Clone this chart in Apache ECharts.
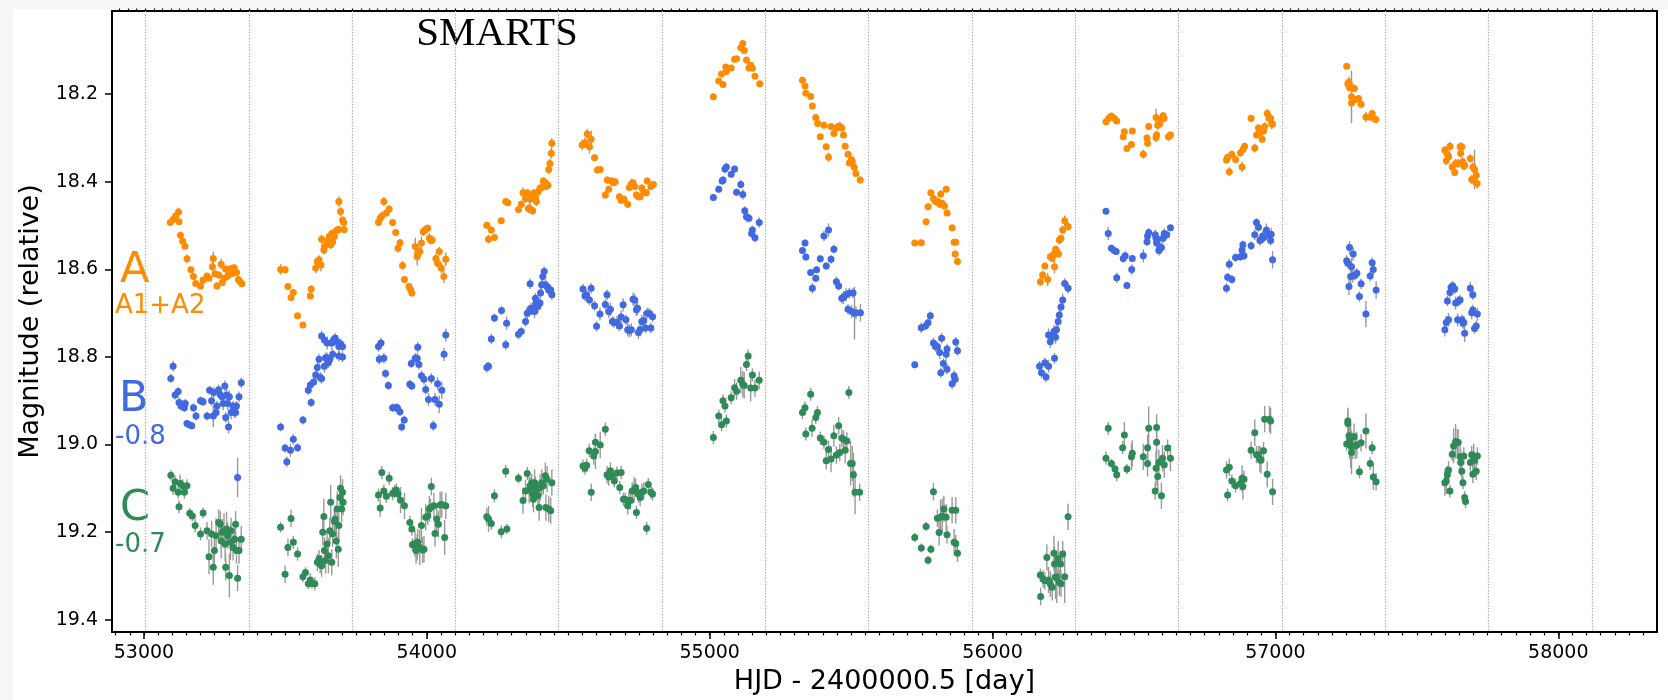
<!DOCTYPE html>
<html>
<head>
<meta charset="utf-8">
<script src="https://cdn.jsdelivr.net/npm/echarts@6.0.0/dist/echarts.min.js"></script>
<style>
html,body{margin:0;padding:0;background:#f7f7f7;}
#paper{position:absolute;left:13px;top:9px;width:1655px;height:691px;background:#ffffff;}
#chart{position:absolute;left:0;top:0;width:1668px;height:700px;}
</style>
</head>
<body>
<div id="paper"></div>
<div id="chart"></div>
<script>
// ---------------- data: [HJD-2400000.5, magnitude (as plotted), error] ----------------
const pointsA = [
[53093,18.493,0.006],[53103,18.486,0.006],[53112,18.478,0.008],[53122,18.469,0.01],[53124,18.491,0.006],[53129,18.522,0.008],[53137,18.536,0.006],[53145,18.547,0.006],[53152,18.576,0.01],[53166,18.601,0.006],[53175,18.616,0.006],[53183,18.632,0.006],[53200,18.638,0.006],[53209,18.624,0.006],[53223,18.615,0.006],[53230,18.620,0.006],[53245,18.575,0.015],[53242,18.594,0.01],[53251,18.610,0.008],[53258,18.638,0.008],[53264,18.613,0.008],[53273,18.588,0.012],[53277,18.630,0.008],[53283,18.620,0.008],[53289,18.599,0.008],[53298,18.614,0.01],[53302,18.609,0.008],[53308,18.598,0.008],[53315,18.609,0.008],[53319,18.596,0.008],[53327,18.607,0.008],[53334,18.623,0.008],[53340,18.628,0.008],[53346,18.633,0.006],
[53483,18.600,0.012],[53499,18.601,0.008],[53509,18.639,0.006],[53520,18.664,0.006],[53528,18.653,0.008],[53543,18.706,0.006],[53562,18.727,0.006],[53588,18.661,0.008],[53591,18.645,0.008],[53607,18.597,0.012],[53613,18.582,0.008],[53619,18.578,0.01],[53626,18.590,0.015],[53628,18.531,0.01],[53636,18.556,0.01],[53638,18.548,0.008],[53645,18.544,0.01],[53651,18.533,0.01],[53655,18.525,0.008],[53660,18.544,0.01],[53664,18.518,0.008],[53667,18.537,0.008],[53673,18.525,0.008],[53676,18.514,0.008],[53683,18.510,0.008],[53689,18.509,0.008],[53689,18.445,0.012],[53695,18.468,0.01],[53702,18.487,0.008],[53706,18.493,0.008],[53708,18.509,0.008],
[53829,18.493,0.008],[53835,18.483,0.008],[53841,18.478,0.01],[53848,18.445,0.01],[53857,18.471,0.008],[53867,18.462,0.008],[53879,18.493,0.008],[53890,18.516,0.008],[53898,18.552,0.01],[53905,18.539,0.008],[53914,18.591,0.01],[53921,18.623,0.008],[53937,18.639,0.008],[53943,18.647,0.008],[53947,18.654,0.008],[53959,18.548,0.02],[53966,18.571,0.02],[53968,18.563,0.015],[53975,18.559,0.012],[53981,18.540,0.015],[53987,18.514,0.01],[53994,18.510,0.01],[54003,18.506,0.008],[54009,18.529,0.012],[54013,18.533,0.01],[54019,18.533,0.01],[54032,18.575,0.01],[54038,18.586,0.01],[54044,18.559,0.01],[54051,18.597,0.012],[54060,18.616,0.015],[54067,18.577,0.015],
[54212,18.499,0.008],[54218,18.531,0.01],[54228,18.510,0.008],[54239,18.527,0.006],[54263,18.489,0.006],[54279,18.445,0.008],[54286,18.448,0.006],[54324,18.463,0.008],[54334,18.451,0.008],[54340,18.425,0.012],[54349,18.438,0.01],[54355,18.425,0.008],[54359,18.461,0.01],[54365,18.440,0.015],[54368,18.463,0.01],[54374,18.466,0.01],[54377,18.426,0.01],[54384,18.434,0.008],[54387,18.445,0.01],[54393,18.423,0.008],[54400,18.415,0.008],[54406,18.413,0.008],[54412,18.398,0.008],[54419,18.402,0.008],[54421,18.411,0.008],[54428,18.408,0.008],[54431,18.372,0.01],[54435,18.358,0.01],[54440,18.335,0.012],[54442,18.312,0.012],
[54549,18.316,0.012],[54559,18.311,0.012],[54567,18.291,0.012],[54575,18.320,0.015],[54581,18.303,0.02],[54593,18.345,0.008],[54603,18.373,0.008],[54613,18.372,0.008],[54631,18.430,0.008],[54638,18.396,0.008],[54643,18.417,0.008],[54653,18.398,0.008],[54660,18.402,0.008],[54666,18.400,0.008],[54681,18.434,0.008],[54687,18.442,0.008],[54697,18.440,0.008],[54710,18.451,0.008],[54716,18.413,0.008],[54723,18.405,0.012],[54729,18.402,0.008],[54735,18.411,0.008],[54741,18.430,0.008],[54748,18.434,0.008],[54754,18.434,0.008],[54760,18.414,0.008],[54767,18.425,0.008],[54776,18.425,0.008],[54779,18.398,0.008],[54792,18.411,0.008],[54801,18.406,0.008],
[55013,18.206,0.008],[55032,18.170,0.006],[55042,18.154,0.006],[55047,18.178,0.008],[55057,18.138,0.006],[55059,18.148,0.006],[55076,18.140,0.006],[55088,18.120,0.006],[55095,18.119,0.006],[55110,18.094,0.006],[55117,18.084,0.006],[55122,18.100,0.006],[55130,18.122,0.006],[55139,18.140,0.006],[55145,18.134,0.006],[55151,18.141,0.006],[55160,18.159,0.006],[55177,18.176,0.006],
[55328,18.168,0.006],[55337,18.181,0.006],[55340,18.198,0.006],[55357,18.205,0.006],[55363,18.227,0.006],[55375,18.253,0.006],[55382,18.267,0.006],[55391,18.297,0.006],[55404,18.271,0.006],[55412,18.320,0.006],[55420,18.344,0.01],[55429,18.274,0.006],[55439,18.290,0.006],[55448,18.278,0.006],[55454,18.274,0.006],[55460,18.273,0.01],[55467,18.277,0.006],[55473,18.293,0.006],[55479,18.319,0.006],[55489,18.337,0.006],[55494,18.357,0.006],[55501,18.349,0.006],[55504,18.354,0.006],[55511,18.367,0.006],[55517,18.381,0.006],[55532,18.396,0.008],
[55725,18.540,0.006],[55748,18.539,0.006],[55765,18.491,0.006],[55772,18.457,0.006],[55782,18.425,0.006],[55791,18.438,0.006],[55798,18.445,0.008],[55807,18.445,0.008],[55813,18.451,0.008],[55817,18.428,0.008],[55822,18.449,0.006],[55830,18.455,0.006],[55836,18.417,0.006],[55839,18.471,0.006],[55857,18.505,0.006],[55864,18.538,0.006],[55870,18.538,0.006],[55868,18.565,0.008],[55876,18.582,0.008],
[56169,18.628,0.01],[56177,18.613,0.01],[56185,18.592,0.008],[56195,18.623,0.015],[56204,18.571,0.008],[56211,18.575,0.008],[56217,18.565,0.008],[56219,18.594,0.015],[56223,18.554,0.008],[56227,18.559,0.008],[56233,18.565,0.008],[56236,18.533,0.01],[56242,18.529,0.008],[56248,18.510,0.01],[56255,18.489,0.012],[56267,18.502,0.01],
[56401,18.263,0.008],[56411,18.255,0.006],[56420,18.250,0.006],[56430,18.255,0.006],[56439,18.261,0.006],[56462,18.297,0.008],[56466,18.286,0.008],[56475,18.324,0.006],[56491,18.315,0.006],[56494,18.284,0.006],[56533,18.337,0.01],[56546,18.300,0.008],[56548,18.312,0.008],[56552,18.274,0.008],[56578,18.253,0.02],[56578,18.299,0.01],[56580,18.293,0.01],[56584,18.271,0.01],[56590,18.268,0.008],[56597,18.258,0.01],[56603,18.249,0.008],[56606,18.255,0.008],[56622,18.297,0.01],[56629,18.293,0.008],
[56827,18.350,0.008],[56831,18.344,0.008],[56837,18.377,0.01],[56846,18.337,0.008],[56859,18.349,0.008],[56876,18.334,0.008],[56882,18.366,0.012],[56885,18.326,0.008],[56891,18.319,0.008],[56914,18.255,0.008],[56927,18.323,0.01],[56933,18.293,0.008],[56940,18.277,0.008],[56945,18.288,0.008],[56953,18.303,0.008],[56958,18.284,0.008],[56962,18.274,0.01],[56971,18.244,0.01],[56977,18.255,0.01],[56983,18.255,0.01],[56987,18.268,0.012],[56990,18.268,0.01],
[57252,18.136,0.006],[57256,18.176,0.01],[57260,18.172,0.012],[57262,18.185,0.008],[57269,18.206,0.06],[57269,18.220,0.01],[57273,18.185,0.01],[57275,18.214,0.008],[57279,18.187,0.008],[57285,18.212,0.008],[57294,18.210,0.008],[57303,18.223,0.008],[57320,18.252,0.012],[57333,18.252,0.008],[57342,18.244,0.008],[57348,18.255,0.008],[57355,18.258,0.008],
[57599,18.328,0.01],[57604,18.352,0.01],[57608,18.337,0.01],[57612,18.343,0.008],[57617,18.319,0.01],[57625,18.366,0.01],[57634,18.379,0.008],[57637,18.358,0.01],[57646,18.358,0.01],[57653,18.320,0.01],[57655,18.335,0.01],[57659,18.320,0.01],[57662,18.354,0.01],[57666,18.364,0.01],[57669,18.362,0.01],[57689,18.347,0.01],[57694,18.395,0.01],[57698,18.366,0.01],[57701,18.396,0.012],[57704,18.372,0.045],[57710,18.385,0.012],[57713,18.404,0.012]
];

const pointsB = [
[53095,18.849,0.01],[53103,18.821,0.012],[53110,18.887,0.01],[53121,18.879,0.01],[53124,18.904,0.012],[53131,18.912,0.01],[53137,18.909,0.01],[53143,18.916,0.01],[53146,18.906,0.01],[53152,18.952,0.008],[53160,18.955,0.008],[53169,18.957,0.008],[53175,18.916,0.01],[53184,18.935,0.01],[53200,18.900,0.01],[53209,18.902,0.01],[53223,18.935,0.01],[53232,18.876,0.01],[53239,18.900,0.012],[53245,18.935,0.025],[53247,18.881,0.012],[53255,18.927,0.012],[53258,18.912,0.012],[53264,18.875,0.012],[53270,18.887,0.012],[53277,18.891,0.012],[53280,18.906,0.015],[53286,18.866,0.012],[53289,18.938,0.012],[53292,18.887,0.015],[53296,18.906,0.015],[53299,18.960,0.015],[53302,18.891,0.015],[53308,18.927,0.015],[53315,18.912,0.012],[53319,18.927,0.012],[53324,18.927,0.012],[53327,18.912,0.012],[53331,19.075,0.045],[53336,18.891,0.012],[53344,18.859,0.012],
[53483,18.960,0.01],[53499,19.008,0.01],[53505,19.039,0.012],[53518,19.013,0.015],[53528,18.988,0.012],[53543,19.007,0.01],[53562,18.944,0.01],[53581,18.876,0.01],[53588,18.864,0.01],[53591,18.904,0.01],[53600,18.857,0.01],[53607,18.841,0.01],[53613,18.824,0.012],[53619,18.805,0.012],[53623,18.847,0.012],[53628,18.849,0.012],[53628,18.752,0.012],[53638,18.821,0.015],[53638,18.761,0.012],[53642,18.802,0.012],[53647,18.802,0.012],[53648,18.768,0.015],[53652,18.813,0.012],[53657,18.805,0.012],[53664,18.768,0.015],[53667,18.794,0.012],[53670,18.761,0.012],[53676,18.757,0.012],[53683,18.765,0.015],[53689,18.776,0.015],[53689,18.798,0.012],[53695,18.770,0.012],[53702,18.776,0.012],[53702,18.800,0.012],
[53829,18.776,0.012],[53832,18.805,0.012],[53838,18.768,0.012],[53848,18.803,0.012],[53854,18.838,0.01],[53864,18.865,0.01],[53879,18.916,0.01],[53890,18.916,0.01],[53896,18.916,0.01],[53905,18.925,0.01],[53911,18.960,0.01],[53920,18.944,0.01],[53940,18.862,0.01],[53945,18.815,0.01],[53947,18.866,0.01],[53959,18.803,0.012],[53966,18.803,0.012],[53968,18.778,0.012],[53972,18.817,0.012],[53981,18.843,0.012],[53990,18.851,0.012],[53996,18.874,0.012],[54006,18.897,0.015],[54016,18.849,0.012],[54023,18.957,0.012],[54029,18.897,0.015],[54038,18.861,0.015],[54044,18.908,0.02],[54053,18.876,0.02],[54061,18.794,0.015],[54067,18.750,0.015],
[54212,18.824,0.012],[54218,18.821,0.01],[54228,18.759,0.012],[54239,18.711,0.01],[54264,18.694,0.01],[54279,18.772,0.012],[54282,18.723,0.015],[54324,18.748,0.012],[54334,18.742,0.01],[54349,18.719,0.012],[54355,18.700,0.015],[54362,18.696,0.012],[54365,18.633,0.012],[54368,18.689,0.012],[54374,18.689,0.015],[54381,18.696,0.015],[54384,18.666,0.012],[54387,18.677,0.012],[54393,18.685,0.015],[54400,18.677,0.012],[54402,18.654,0.012],[54406,18.635,0.012],[54410,18.616,0.012],[54415,18.605,0.012],[54419,18.635,0.012],[54425,18.639,0.012],[54431,18.647,0.012],[54438,18.647,0.012],[54442,18.658,0.012],
[54552,18.645,0.012],[54559,18.661,0.012],[54565,18.658,0.012],[54575,18.670,0.012],[54581,18.643,0.012],[54593,18.683,0.012],[54600,18.730,0.012],[54612,18.702,0.015],[54631,18.680,0.012],[54637,18.658,0.012],[54643,18.696,0.015],[54649,18.691,0.015],[54656,18.719,0.012],[54662,18.721,0.012],[54672,18.721,0.015],[54681,18.729,0.012],[54687,18.709,0.015],[54694,18.681,0.015],[54704,18.715,0.012],[54710,18.738,0.015],[54716,18.740,0.015],[54723,18.738,0.015],[54729,18.668,0.015],[54735,18.670,0.015],[54741,18.692,0.015],[54745,18.689,0.015],[54748,18.744,0.015],[54754,18.738,0.015],[54760,18.719,0.015],[54767,18.717,0.02],[54773,18.734,0.012],[54779,18.700,0.012],[54786,18.700,0.012],[54792,18.734,0.012],[54798,18.708,0.012],
[55013,18.436,0.008],[55032,18.417,0.008],[55044,18.398,0.008],[55047,18.396,0.01],[55054,18.371,0.01],[55059,18.366,0.01],[55076,18.383,0.008],[55088,18.371,0.008],[55095,18.424,0.008],[55110,18.406,0.01],[55117,18.429,0.012],[55124,18.466,0.01],[55130,18.480,0.012],[55139,18.483,0.01],[55148,18.518,0.01],[55151,18.510,0.01],[55160,18.528,0.01],[55175,18.493,0.012],
[55328,18.557,0.008],[55337,18.540,0.008],[55340,18.572,0.008],[55357,18.607,0.008],[55363,18.643,0.012],[55375,18.620,0.008],[55378,18.601,0.008],[55391,18.576,0.008],[55404,18.524,0.012],[55412,18.592,0.008],[55420,18.510,0.015],[55429,18.577,0.01],[55439,18.554,0.01],[55448,18.628,0.012],[55456,18.638,0.01],[55467,18.666,0.012],[55473,18.664,0.015],[55482,18.658,0.015],[55489,18.691,0.012],[55494,18.654,0.012],[55502,18.696,0.015],[55507,18.654,0.012],[55512,18.700,0.06],[55517,18.699,0.015],[55533,18.699,0.02],
[55725,18.818,0.008],[55748,18.733,0.012],[55763,18.729,0.01],[55772,18.722,0.01],[55780,18.706,0.01],[55791,18.768,0.012],[55798,18.776,0.012],[55805,18.776,0.012],[55813,18.790,0.015],[55817,18.836,0.012],[55820,18.757,0.012],[55826,18.815,0.012],[55836,18.794,0.015],[55839,18.782,0.012],[55839,18.828,0.012],[55857,18.861,0.012],[55864,18.843,0.012],[55868,18.851,0.012],[55870,18.766,0.012],[55876,18.786,0.012],
[56166,18.821,0.012],[56173,18.836,0.012],[56185,18.813,0.012],[56189,18.846,0.012],[56198,18.821,0.015],[56198,18.750,0.015],[56204,18.765,0.015],[56213,18.752,0.015],[56217,18.742,0.015],[56219,18.803,0.012],[56223,18.755,0.015],[56226,18.738,0.015],[56232,18.719,0.02],[56236,18.704,0.015],[56242,18.686,0.015],[56248,18.670,0.015],[56255,18.632,0.012],[56267,18.643,0.012],
[56401,18.467,0.006],[56409,18.518,0.015],[56420,18.552,0.008],[56430,18.557,0.008],[56437,18.559,0.008],[56439,18.619,0.012],[56462,18.575,0.01],[56469,18.569,0.01],[56475,18.637,0.008],[56492,18.600,0.012],[56494,18.575,0.008],[56533,18.569,0.015],[56546,18.537,0.01],[56548,18.524,0.01],[56552,18.516,0.01],[56575,18.521,0.012],[56578,18.529,0.015],[56580,18.540,0.015],[56584,18.531,0.012],[56588,18.557,0.012],[56593,18.552,0.012],[56597,18.550,0.012],[56603,18.529,0.012],[56607,18.518,0.012],[56616,18.521,0.01],[56629,18.505,0.008],
[56827,18.643,0.012],[56831,18.618,0.01],[56837,18.588,0.012],[56846,18.623,0.01],[56859,18.573,0.01],[56876,18.571,0.01],[56882,18.556,0.012],[56885,18.544,0.01],[56889,18.569,0.01],[56914,18.546,0.01],[56927,18.521,0.012],[56933,18.493,0.01],[56940,18.504,0.01],[56945,18.534,0.012],[56949,18.531,0.012],[56955,18.524,0.012],[56959,18.527,0.012],[56968,18.510,0.015],[56977,18.521,0.012],[56983,18.534,0.012],[56985,18.520,0.015],[56990,18.578,0.02],
[57252,18.580,0.012],[57256,18.586,0.012],[57260,18.639,0.02],[57262,18.550,0.015],[57266,18.616,0.02],[57269,18.594,0.02],[57273,18.615,0.015],[57275,18.565,0.015],[57282,18.613,0.012],[57288,18.609,0.012],[57297,18.662,0.012],[57303,18.633,0.012],[57320,18.702,0.03],[57335,18.615,0.012],[57342,18.585,0.012],[57346,18.600,0.012],[57356,18.647,0.02],
[57599,18.738,0.015],[57604,18.721,0.015],[57608,18.672,0.012],[57612,18.715,0.015],[57617,18.653,0.012],[57621,18.641,0.012],[57627,18.638,0.012],[57634,18.645,0.012],[57637,18.677,0.015],[57644,18.715,0.015],[57646,18.673,0.012],[57653,18.670,0.012],[57659,18.715,0.012],[57663,18.723,0.012],[57666,18.721,0.015],[57669,18.746,0.02],[57689,18.643,0.015],[57694,18.699,0.015],[57698,18.658,0.012],[57698,18.693,0.012],[57704,18.735,0.012],[57710,18.729,0.012],[57714,18.702,0.015]
];

const pointsC = [
[53095,19.070,0.012],[53103,19.100,0.015],[53110,19.085,0.015],[53121,19.109,0.015],[53124,19.142,0.015],[53128,19.089,0.02],[53137,19.094,0.015],[53143,19.109,0.015],[53152,19.094,0.015],[53162,19.157,0.012],[53171,19.163,0.012],[53181,19.185,0.015],[53200,19.204,0.015],[53209,19.156,0.012],[53223,19.197,0.02],[53230,19.256,0.04],[53239,19.204,0.03],[53245,19.280,0.04],[53249,19.242,0.04],[53255,19.208,0.04],[53264,19.178,0.03],[53270,19.182,0.03],[53273,19.220,0.04],[53277,19.200,0.03],[53283,19.197,0.04],[53287,19.227,0.04],[53289,19.280,0.03],[53292,19.193,0.04],[53296,19.208,0.03],[53302,19.299,0.05],[53306,19.223,0.04],[53308,19.197,0.03],[53315,19.235,0.03],[53321,19.216,0.03],[53324,19.182,0.03],[53327,19.242,0.03],[53331,19.305,0.03],[53336,19.242,0.03],[53344,19.216,0.03],
[53483,19.189,0.012],[53499,19.296,0.02],[53509,19.235,0.02],[53520,19.169,0.02],[53528,19.223,0.015],[53543,19.250,0.015],[53562,19.302,0.012],[53571,19.292,0.012],[53581,19.318,0.012],[53588,19.309,0.015],[53594,19.317,0.012],[53604,19.318,0.015],[53613,19.269,0.02],[53619,19.261,0.02],[53623,19.273,0.02],[53628,19.277,0.025],[53632,19.200,0.03],[53636,19.164,0.04],[53638,19.242,0.03],[53642,19.265,0.03],[53647,19.227,0.03],[53652,19.254,0.04],[53657,19.197,0.03],[53660,19.132,0.04],[53664,19.269,0.03],[53667,19.204,0.03],[53673,19.175,0.03],[53676,19.170,0.03],[53680,19.220,0.04],[53683,19.147,0.04],[53687,19.239,0.04],[53689,19.185,0.03],[53693,19.121,0.03],[53695,19.100,0.03],[53699,19.147,0.03],[53702,19.109,0.03],[53704,19.132,0.03],
[53829,19.115,0.015],[53835,19.145,0.02],[53841,19.064,0.015],[53848,19.106,0.015],[53857,19.118,0.015],[53867,19.077,0.015],[53879,19.112,0.015],[53886,19.107,0.015],[53892,19.104,0.015],[53898,19.113,0.015],[53907,19.127,0.03],[53921,19.140,0.03],[53940,19.178,0.015],[53947,19.193,0.015],[53949,19.229,0.015],[53958,19.226,0.03],[53962,19.242,0.03],[53966,19.235,0.03],[53968,19.223,0.03],[53975,19.235,0.04],[53981,19.185,0.04],[53985,19.241,0.03],[53990,19.239,0.03],[53996,19.166,0.03],[54003,19.163,0.02],[54009,19.147,0.03],[54013,19.144,0.02],[54016,19.096,0.02],[54025,19.140,0.03],[54029,19.203,0.03],[54035,19.170,0.03],[54041,19.182,0.03],[54047,19.138,0.03],[54053,19.137,0.03],[54063,19.212,0.04],[54067,19.140,0.03],
[54212,19.165,0.02],[54218,19.170,0.03],[54228,19.180,0.015],[54239,19.117,0.015],[54263,19.199,0.015],[54279,19.061,0.015],[54283,19.193,0.012],[54324,19.077,0.012],[54340,19.128,0.03],[54349,19.106,0.025],[54355,19.066,0.015],[54362,19.104,0.03],[54365,19.094,0.02],[54371,19.087,0.02],[54374,19.113,0.03],[54377,19.125,0.03],[54381,19.087,0.03],[54384,19.098,0.025],[54390,19.102,0.02],[54393,19.117,0.03],[54397,19.144,0.03],[54400,19.098,0.03],[54406,19.087,0.03],[54412,19.094,0.02],[54419,19.071,0.03],[54421,19.144,0.03],[54425,19.079,0.03],[54431,19.147,0.03],[54438,19.151,0.03],[54442,19.087,0.03],
[54552,19.049,0.015],[54559,19.054,0.015],[54565,19.047,0.015],[54574,19.014,0.015],[54581,19.109,0.02],[54590,19.026,0.02],[54596,18.995,0.02],[54596,19.016,0.04],[54613,19.001,0.03],[54631,18.965,0.015],[54637,19.069,0.02],[54643,19.074,0.02],[54649,19.060,0.02],[54656,19.071,0.015],[54663,19.083,0.015],[54672,19.065,0.015],[54682,19.098,0.015],[54687,19.064,0.015],[54695,19.125,0.015],[54701,19.125,0.015],[54710,19.140,0.02],[54714,19.128,0.02],[54720,19.128,0.02],[54726,19.106,0.02],[54733,19.104,0.03],[54738,19.098,0.02],[54741,19.155,0.015],[54748,19.113,0.02],[54754,19.121,0.02],[54760,19.109,0.02],[54767,19.106,0.02],[54777,19.191,0.015],[54783,19.091,0.015],[54792,19.109,0.015],[54798,19.113,0.015],
[55013,18.984,0.015],[55032,18.935,0.015],[55042,18.955,0.015],[55047,18.900,0.015],[55054,18.912,0.015],[55059,18.946,0.015],[55076,18.893,0.015],[55088,18.870,0.02],[55095,18.878,0.02],[55110,18.853,0.03],[55117,18.862,0.03],[55122,18.865,0.03],[55130,18.817,0.015],[55136,18.798,0.015],[55145,18.871,0.03],[55151,18.841,0.015],[55160,18.871,0.02],[55175,18.853,0.02],
[55328,18.927,0.015],[55337,18.916,0.015],[55340,18.976,0.015],[55357,18.885,0.015],[55362,18.963,0.02],[55375,18.938,0.015],[55381,18.927,0.015],[55391,18.985,0.015],[55404,18.995,0.015],[55412,19.037,0.02],[55420,19.011,0.02],[55429,19.033,0.03],[55439,18.980,0.025],[55448,19.024,0.02],[55456,18.957,0.02],[55460,19.018,0.02],[55467,18.985,0.02],[55473,18.988,0.02],[55479,19.013,0.03],[55485,18.992,0.02],[55492,18.881,0.015],[55498,19.043,0.05],[55504,19.043,0.04],[55508,19.069,0.05],[55514,19.109,0.05],[55530,19.109,0.02],
[55725,19.212,0.01],[55748,19.236,0.01],[55765,19.187,0.01],[55772,19.264,0.01],[55782,19.239,0.01],[55791,19.108,0.02],[55805,19.168,0.02],[55811,19.201,0.03],[55816,19.166,0.04],[55822,19.163,0.04],[55828,19.147,0.03],[55836,19.166,0.03],[55839,19.206,0.02],[55857,19.150,0.03],[55864,19.223,0.03],[55870,19.150,0.03],[55870,19.226,0.02],[55876,19.248,0.02],
[56169,19.298,0.015],[56170,19.347,0.02],[56179,19.307,0.02],[56185,19.311,0.02],[56192,19.258,0.03],[56198,19.309,0.03],[56204,19.318,0.03],[56211,19.326,0.03],[56217,19.248,0.04],[56219,19.273,0.04],[56223,19.303,0.05],[56227,19.302,0.06],[56232,19.261,0.04],[56236,19.315,0.03],[56240,19.273,0.03],[56242,19.318,0.03],[56248,19.250,0.03],[56255,19.302,0.06],[56267,19.165,0.03],
[56401,19.031,0.015],[56409,18.963,0.015],[56420,19.043,0.01],[56433,19.056,0.01],[56439,19.069,0.015],[56460,19.007,0.015],[56466,18.978,0.03],[56475,19.056,0.012],[56491,19.028,0.03],[56494,19.020,0.03],[56533,19.028,0.03],[56548,19.007,0.03],[56548,19.043,0.03],[56552,18.963,0.05],[56575,19.106,0.02],[56578,19.054,0.04],[56580,18.995,0.05],[56580,18.961,0.03],[56584,19.073,0.03],[56588,19.041,0.03],[56597,19.117,0.03],[56601,19.031,0.03],[56607,19.046,0.03],[56619,19.008,0.02],[56629,19.031,0.03],
[56827,19.058,0.02],[56831,19.115,0.015],[56837,19.052,0.02],[56846,19.083,0.015],[56859,19.094,0.015],[56876,19.089,0.015],[56882,19.077,0.03],[56885,19.096,0.03],[56889,19.079,0.02],[56914,19.013,0.02],[56927,18.973,0.03],[56933,19.023,0.02],[56940,19.023,0.02],[56945,19.033,0.03],[56949,19.036,0.03],[56958,19.014,0.02],[56962,18.942,0.03],[56971,19.068,0.03],[56979,18.942,0.03],[56983,18.946,0.03],[56990,19.108,0.03],
[57252,18.999,0.015],[57256,18.952,0.03],[57256,18.946,0.03],[57260,18.980,0.03],[57262,18.993,0.04],[57266,19.003,0.05],[57269,19.018,0.05],[57273,19.003,0.03],[57278,18.982,0.03],[57282,19.003,0.03],[57288,19.001,0.03],[57297,19.062,0.015],[57303,18.996,0.02],[57320,18.969,0.04],[57335,19.043,0.015],[57342,19.007,0.015],[57346,19.074,0.03],[57356,19.085,0.02],
[57599,19.087,0.03],[57604,19.083,0.03],[57608,19.069,0.02],[57612,19.058,0.02],[57617,19.106,0.015],[57625,19.022,0.015],[57630,19.003,0.04],[57637,18.993,0.04],[57643,18.995,0.03],[57646,18.995,0.03],[57653,19.028,0.03],[57655,19.041,0.03],[57659,19.061,0.02],[57663,19.087,0.015],[57666,19.026,0.02],[57669,19.121,0.015],[57672,19.130,0.015],[57689,19.041,0.02],[57694,19.023,0.02],[57698,19.068,0.02],[57701,19.028,0.03],[57704,19.036,0.02],[57710,19.061,0.02],[57714,19.026,0.02]
];

// year boundaries (MJD of 1 January, 2004..2018)
const yearStarts = [53005,53371,53736,54101,54466,54832,55197,55562,55927,56293,56658,57023,57388,57754,58119];
const xTickLabels = [53000,54000,55000,56000,57000,58000];
const yTickLabels = [18.2,18.4,18.6,18.8,19.0,19.2,19.4];
const X_MIN = 52887, X_MAX = 58349;
const Y_MIN = 18.01, Y_MAX = 19.428;

// minor ticks every 50 days on bottom, month ticks on top
const minorTicks = [];
for (let v = 52900; v <= X_MAX; v += 50) minorTicks.push(v);
const monthTicks = [];
for (let y = 2003; y <= 2019; y++) for (let m = 0; m < 12; m++) {
  const mjd = Date.UTC(y, m, 1) / 86400000 + 40587;
  if (mjd >= X_MIN && mjd <= X_MAX) monthTicks.push(mjd);
}

const COL_A = '#ff8c00', COL_B = '#4169e1', COL_C = '#2e8b57';
const FONT = 'DejaVu Sans';

function errSeries(data) {
  return {
    type: 'custom', xAxisIndex: 0, yAxisIndex: 0, z: 2, silent: true,
    data: data,
    encode: { x: 0, y: 1 },
    renderItem: function (params, api) {
      const x = api.value(0), y = api.value(1), e = api.value(2);
      const p1 = api.coord([x, y - e]), p2 = api.coord([x, y + e]);
      return { type: 'line', shape: { x1: p1[0], y1: p1[1], x2: p2[0], y2: p2[1] },
               style: { stroke: '#999999', lineWidth: 1.4 } };
    }
  };
}
function dotSeries(data, color) {
  return {
    type: 'scatter', xAxisIndex: 0, yAxisIndex: 0, z: 3, silent: true,
    data: data.map(p => [p[0], p[1]]),
    symbol: 'circle', symbolSize: 7,
    itemStyle: { color: color, opacity: 1 }
  };
}

const chart = echarts.init(document.getElementById('chart'), null, { renderer: 'canvas' });
chart.setOption({
  animation: false,
  backgroundColor: 'transparent',
  textStyle: { fontFamily: FONT },
  grid: { left: 112, right: 11, top: 11, bottom: 68, outerBoundsMode: 'none', containLabel: false },
  xAxis: [
    { type: 'value', position: 'bottom', min: X_MIN, max: X_MAX,
      axisLine: { show: true, onZero: false, lineStyle: { color: '#000', width: 2 } },
      axisTick: { show: true, customValues: xTickLabels, length: 7, inside: false, lineStyle: { color: '#000', width: 1.5 } },
      axisLabel: { show: true, customValues: xTickLabels, formatter: v => String(v), fontSize: 19, color: '#000', fontFamily: FONT, margin: 12 },
      splitLine: { show: false },
      name: 'HJD - 2400000.5 [day]', nameLocation: 'middle', nameGap: 36,
      nameTextStyle: { fontSize: 27, color: '#000', fontFamily: FONT } },
    { type: 'value', position: 'bottom', min: X_MIN, max: X_MAX,
      axisLine: { show: false, onZero: false },
      axisTick: { show: true, customValues: minorTicks, length: 3.5, inside: false, lineStyle: { color: '#000', width: 1.2 } },
      axisLabel: { show: false }, splitLine: { show: false } },
    { type: 'value', position: 'top', min: X_MIN, max: X_MAX,
      axisLine: { show: true, onZero: false, lineStyle: { color: '#000', width: 2 } },
      axisTick: { show: true, customValues: monthTicks, length: 2.5, inside: false, lineStyle: { color: '#000', width: 1.2 } },
      axisLabel: { show: false }, splitLine: { show: false } }
  ],
  yAxis: [
    { type: 'value', position: 'left', inverse: true, min: Y_MIN, max: Y_MAX,
      axisLine: { show: true, onZero: false, lineStyle: { color: '#000', width: 2 } },
      axisTick: { show: true, customValues: yTickLabels, length: 7, inside: false, lineStyle: { color: '#000', width: 1.5 } },
      axisLabel: { show: true, customValues: yTickLabels, formatter: v => Number(v).toFixed(1), fontSize: 19, color: '#000', fontFamily: FONT, margin: 14 },
      splitLine: { show: false },
      name: 'Magnitude (relative)', nameLocation: 'middle', nameGap: 67,
      nameTextStyle: { fontSize: 27, color: '#000', fontFamily: FONT } },
    { type: 'value', position: 'right', inverse: true, min: Y_MIN, max: Y_MAX,
      axisLine: { show: true, onZero: false, lineStyle: { color: '#000', width: 2 } },
      axisTick: { show: false }, axisLabel: { show: false }, splitLine: { show: false } }
  ],
  series: [
    { type: 'line', xAxisIndex: 0, yAxisIndex: 0, data: [], z: 1, silent: true,
      markLine: { silent: true, symbol: ['none', 'none'], label: { show: false },
        lineStyle: { color: '#b3b3b3', type: [1.5, 1.5], width: 1.2 },
        emphasis: { disabled: true },
        data: yearStarts.map(v => ({ xAxis: v })) } },
    errSeries(pointsA), errSeries(pointsB), errSeries(pointsC),
    dotSeries(pointsA, COL_A), dotSeries(pointsB, COL_B), dotSeries(pointsC, COL_C)
  ],
  graphic: [
    { type: 'text', x: 497, y: 34, style: { text: 'SMARTS', font: '41px "Liberation Serif"', fill: '#000', textAlign: 'center', textVerticalAlign: 'middle', verticalAlign: 'middle' } },
    { type: 'text', x: 120, y: 271, style: { text: 'A', font: '43px "DejaVu Sans"', fill: COL_A, textAlign: 'left', textVerticalAlign: 'middle', verticalAlign: 'middle' } },
    { type: 'text', x: 115, y: 306, style: { text: 'A1+A2', font: '26px "DejaVu Sans"', fill: COL_A, textAlign: 'left', textVerticalAlign: 'middle', verticalAlign: 'middle' } },
    { type: 'text', x: 119, y: 400, style: { text: 'B', font: '43px "DejaVu Sans"', fill: COL_B, textAlign: 'left', textVerticalAlign: 'middle', verticalAlign: 'middle' } },
    { type: 'text', x: 115, y: 437, style: { text: '-0.8', font: '26px "DejaVu Sans"', fill: COL_B, textAlign: 'left', textVerticalAlign: 'middle', verticalAlign: 'middle' } },
    { type: 'text', x: 120, y: 509, style: { text: 'C', font: '43px "DejaVu Sans"', fill: COL_C, textAlign: 'left', textVerticalAlign: 'middle', verticalAlign: 'middle' } },
    { type: 'text', x: 115, y: 545, style: { text: '-0.7', font: '26px "DejaVu Sans"', fill: COL_C, textAlign: 'left', textVerticalAlign: 'middle', verticalAlign: 'middle' } }
  ]
});
</script>
</body>
</html>
